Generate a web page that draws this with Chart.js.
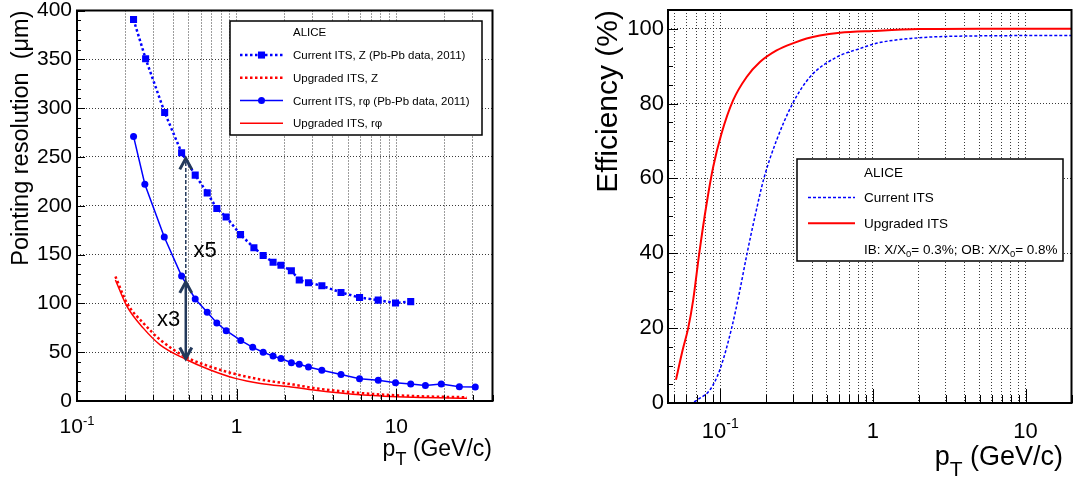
<!DOCTYPE html>
<html>
<head>
<meta charset="utf-8">
<script src="https://cdn.jsdelivr.net/npm/chart.js@4.4.1/dist/chart.umd.min.js"></script>
<style>
  body { margin: 0; background: #fff; }
  #wrap { position: relative; width: 1075px; height: 485px; }
  canvas { position: absolute; top: 0; }
</style>
</head>
<body>
<div id="wrap">
  <canvas id="resolucion" width="540" height="485" style="left:0"></canvas>
  <canvas id="eficiencia" width="535" height="485" style="left:540px"></canvas>
</div>
<script>
const FONT = '"Liberation Sans", Arial, Helvetica, sans-serif';
const GRID = '#3a3a3a';

// pointing resolution (um) vs pT (GeV/c), left panel
const ptZ = [0.226, 0.269, 0.354, 0.452, 0.55, 0.654, 0.751, 0.859, 1.057, 1.282, 1.465, 1.69, 1.894, 2.2, 2.465, 2.815, 3.415, 4.5, 5.88, 7.7, 9.88, 12.3];
const resZ = [390.7, 350.6, 295.5, 254.3, 231.4, 213.2, 197.1, 188.5, 170.4, 157, 149.1, 142.2, 139, 133.4, 124, 121.2, 118, 111.2, 106, 103.3, 100.3, 101.8];
const ptRphi = [0.226, 0.266, 0.352, 0.452, 0.55, 0.654, 0.751, 0.86, 1.06, 1.26, 1.465, 1.69, 1.894, 2.2, 2.465, 2.815, 3.415, 4.5, 5.88, 7.7, 9.88, 12.3, 15.2, 19.1, 24.8, 31.2];
const resRphi = [271, 222, 168, 128, 104.5, 91, 80, 72, 62, 55, 50, 46, 43.5, 39.2, 37.6, 34.8, 31.4, 27.2, 22.9, 21.2, 18.8, 17.3, 15.8, 17.3, 14.6, 14.3];
const ptUpg = [0.174, 0.206, 0.261, 0.333, 0.476, 0.684, 0.98, 1.41, 2.27, 3.03, 6.24, 12.8, 27.7];
const resUpgZ = [127.5, 100, 79.6, 62.5, 45.4, 35.1, 27.6, 22, 16.8, 13.3, 7.9, 5.1, 3.8];
const resUpgRphi = [124, 96.6, 74.4, 57.3, 43, 31.7, 23.2, 18, 14.2, 11.3, 6.1, 3.8, 2.8];

// tracking efficiency (%) vs pT (GeV/c), right panel
const ptEffCur = [0.05, 0.0634, 0.0736, 0.0857, 0.0995, 0.1188, 0.1346, 0.15, 0.1688, 0.1932, 0.234, 0.298, 0.387, 0.578, 0.822, 1.08, 1.77, 3.5, 20];
const effCur = [0, 0, 1.3, 3.5, 8.9, 20, 30.2, 40, 49.8, 60, 70.2, 80, 87.1, 92.4, 94.7, 96.2, 97.4, 98, 98.2];
const ptEffUpg = [0.0513, 0.0568, 0.0617, 0.0665, 0.0729, 0.0815, 0.09, 0.102, 0.1216, 0.149, 0.182, 0.234, 0.308, 0.368, 0.449, 0.608, 1.0, 2, 5, 20];
const effUpg = [6.2, 14.2, 20, 27.5, 40, 53.3, 63.1, 72, 80.9, 87.1, 91.1, 94.2, 96.3, 97.4, 98.2, 98.9, 99.4, 99.9, 100, 100];

const yTicksRes = [0, 50, 100, 150, 200, 250, 300, 350, 400];
const yTicksEff = [0, 20, 40, 60, 80, 100];
const xDecades = [0.1, 1, 10];
const xDecadeLabels = ['10^{-1}', '1', '10'];

const pts = (xs, ys) => xs.map((x, i) => ({x: x, y: ys[i]}));

// 1..9 x 10^n grid like ROOT's log axis
function logGrid(min, max) {
  const out = [];
  for (let e = Math.floor(Math.log10(min)); e <= Math.ceil(Math.log10(max)); e++) {
    for (let m = 1; m < 10; m++) {
      const v = +(m * Math.pow(10, e)).toPrecision(6);
      if (v >= min * 0.999 && v <= max * 1.001) out.push(v);
    }
  }
  return out;
}

function seg(ctx, x1, y1, x2, y2) {
  ctx.beginPath(); ctx.moveTo(x1, y1); ctx.lineTo(x2, y2); ctx.stroke();
}

// text with _{sub} and ^{sup}
function drawRich(ctx, s, x, y, size, align, o) {
  o = o || {};
  const small = o.small || size * 0.7;
  const parts = [];
  const re = /([_^])\{([^}]*)\}|([^_^]+)/g;
  let m;
  while ((m = re.exec(s)) !== null) {
    if (m[3]) parts.push({t: m[3], mode: 0});
    else parts.push({t: m[2], mode: m[1] === '_' ? 1 : 2});
  }
  let w = 0;
  parts.forEach(p => {
    ctx.font = (p.mode ? small : size) + 'px ' + FONT;
    p.w = ctx.measureText(p.t).width;
    w += p.w;
  });
  let cx = align === 'right' ? x - w : align === 'center' ? x - w / 2 : x;
  ctx.textAlign = 'left';
  ctx.textBaseline = 'alphabetic';
  parts.forEach(p => {
    ctx.font = (p.mode ? small : size) + 'px ' + FONT;
    const dy = p.mode === 1 ? (o.lower || size * 0.3) : p.mode === 2 ? -(o.raise || size * 0.4) : 0;
    ctx.fillText(p.t, cx, y + dy);
    cx += p.w;
  });
}

function marker(ctx, style, x, y, r, color) {
  ctx.fillStyle = color;
  if (style === 'rect') {
    const s = r * Math.SQRT2;
    ctx.fillRect(x - s / 2, y - s / 2, s, s);
  } else {
    ctx.beginPath(); ctx.arc(x, y, r, 0, Math.PI * 2); ctx.fill();
  }
}

function chevron(ctx, x, y, dir, h) {
  ctx.beginPath();
  ctx.moveTo(x - h[0], y + dir * h[1]);
  ctx.lineTo(x, y);
  ctx.lineTo(x + h[0], y + dir * h[1]);
  ctx.stroke();
}

// frame, inward ticks, labels, titles and legend in ROOT style
function rootFrame(cfg) {
  return {
    id: 'rootFrame',
    afterDraw(chart) {
      const ctx = chart.ctx, a = chart.chartArea, x = chart.scales.x, y = chart.scales.y;
      ctx.save();
      ctx.strokeStyle = '#000';
      ctx.lineWidth = 1;
      ctx.setLineDash([]);
      x.ticks.forEach(t => {
        const px = Math.round(x.getPixelForValue(t.value)) + 0.5;
        const len = xDecades.includes(t.value) ? cfg.xTick[1] : cfg.xTick[0];
        seg(ctx, px, a.bottom, px, a.bottom - len);
      });
      for (let v = y.min; v <= y.max + 1e-9; v += cfg.yMinor) {
        const py = Math.round(y.getPixelForValue(v)) + 0.5;
        const len = Math.abs(v % cfg.yMajor) < 1e-9 ? cfg.yTick[1] : cfg.yTick[0];
        seg(ctx, a.left, py, a.left + len, py);
      }
      ctx.lineWidth = 2;
      ctx.strokeRect(a.left, a.top, a.right - a.left, a.bottom - a.top);

      ctx.fillStyle = '#000';
      xDecades.forEach((v, i) => {
        drawRich(ctx, xDecadeLabels[i], x.getPixelForValue(v), cfg.xLab.y, cfg.xLab.size, 'center', cfg.xLab);
      });
      drawRich(ctx, cfg.xTitle.text, cfg.xTitle.x, cfg.xTitle.y, cfg.xTitle.size, 'right', cfg.xTitle);
      ctx.save();
      ctx.translate(cfg.yTitle.x, cfg.yTitle.y);
      ctx.rotate(-Math.PI / 2);
      drawRich(ctx, cfg.yTitle.text, 0, 0, cfg.yTitle.size, 'right');
      ctx.restore();

      if (cfg.arrows) {
        const A = cfg.arrows;
        const ax = x.getPixelForValue(A.x);
        ctx.strokeStyle = A.color;
        ctx.lineWidth = 1.5;
        ctx.setLineDash([4, 2]);
        seg(ctx, ax, y.getPixelForValue(A.dashed[0]), ax, y.getPixelForValue(A.dashed[1]));
        ctx.setLineDash([]);
        ctx.lineWidth = 3;
        chevron(ctx, ax, y.getPixelForValue(A.dashed[1]), 1, A.head);
        const y0 = y.getPixelForValue(A.solid[0]), y1 = y.getPixelForValue(A.solid[1]);
        ctx.lineWidth = 2.5;
        seg(ctx, ax, y0, ax, y1);
        ctx.lineWidth = 3;
        chevron(ctx, ax, y1, 1, A.head);
        chevron(ctx, ax, y0, -1, A.head);
        ctx.fillStyle = '#000';
        A.notes.forEach(n => {
          drawRich(ctx, n.text, x.getPixelForValue(n.x), y.getPixelForValue(n.y), A.size, 'left');
        });
      }

      const L = cfg.legend;
      ctx.fillStyle = '#fff';
      ctx.fillRect(L.box[0], L.box[1], L.box[2] - L.box[0], L.box[3] - L.box[1]);
      ctx.strokeStyle = '#000';
      ctx.lineWidth = 1.5;
      ctx.strokeRect(L.box[0], L.box[1], L.box[2] - L.box[0], L.box[3] - L.box[1]);
      L.rows.forEach((r, i) => {
        const ry = L.y0 + i * L.step;
        let text = r.text;
        if (r.ds !== undefined) {
          const ds = chart.data.datasets[r.ds];
          text = text || ds.label;
          ctx.strokeStyle = ds.borderColor;
          ctx.lineWidth = ds.borderWidth;
          ctx.setLineDash(ds.borderDash || []);
          seg(ctx, L.line[0], ry, L.line[1], ry);
          ctx.setLineDash([]);
          if (ds.pointRadius) marker(ctx, ds.pointStyle, (L.line[0] + L.line[1]) / 2, ry, ds.pointRadius, ds.pointBackgroundColor);
        }
        ctx.fillStyle = '#000';
        drawRich(ctx, text, L.textX, ry + L.size * 0.36, L.size, 'left', {small: L.size * 0.7, lower: 3});
      });
      ctx.restore();
    }
  };
}

function scales(xmin, xmax, xh, ymin, ymax, yticks, yw, yfont, ypad) {
  return {
    x: {
      type: 'logarithmic', min: xmin, max: xmax,
      afterBuildTicks: s => { s.ticks = logGrid(s.min, s.max).map(v => ({value: v})); },
      afterFit: s => { s.height = xh; s.paddingLeft = 0; s.paddingRight = 0; },
      ticks: {display: false},
      grid: {color: GRID, lineWidth: 1, drawTicks: false},
      border: {display: false, dash: [1, 2]}
    },
    y: {
      min: ymin, max: ymax,
      afterBuildTicks: s => { s.ticks = yticks.map(v => ({value: v})); },
      afterFit: s => { s.width = yw; s.paddingTop = 0; s.paddingBottom = 0; },
      ticks: {font: {family: FONT, size: yfont}, color: '#000', padding: ypad},
      grid: {color: GRID, lineWidth: 1, drawTicks: false},
      border: {display: false, dash: [1, 2]}
    }
  };
}

const resolucion = new Chart(document.getElementById('resolucion'), {
  type: 'line',
  data: {
    datasets: [{
      label: 'Current ITS, Z (Pb-Pb data, 2011)',
      data: pts(ptZ, resZ),
      borderColor: '#0000ff', backgroundColor: '#0000ff', pointBackgroundColor: '#0000ff',
      borderWidth: 2.5, borderDash: [2.5, 2.5], pointStyle: 'rect', pointRadius: 5, pointBorderWidth: 0, tension: 0
    }, {
      label: 'Upgraded ITS, Z',
      data: pts(ptUpg, resUpgZ),
      borderColor: '#ff0000', borderWidth: 2.5, borderDash: [2.5, 2.5], pointRadius: 0, cubicInterpolationMode: 'monotone'
    }, {
      label: 'Current ITS, rφ (Pb-Pb data, 2011)',
      data: pts(ptRphi, resRphi),
      borderColor: '#0000ff', backgroundColor: '#0000ff', pointBackgroundColor: '#0000ff',
      borderWidth: 1.5, pointStyle: 'circle', pointRadius: 3.5, pointBorderWidth: 0, tension: 0
    }, {
      label: 'Upgraded ITS, rφ',
      data: pts(ptUpg, resUpgRphi),
      borderColor: '#ff0000', borderWidth: 1.5, pointRadius: 0, cubicInterpolationMode: 'monotone'
    }]
  },
  options: {
    responsive: false, animation: false, events: [],
    layout: {padding: {left: 0, top: 10.5, right: 47.5, bottom: 0}},
    scales: scales(0.1, 40, 84, 0, 400, yTicksRes, 77, 21, 5),
    plugins: {legend: {display: false}, tooltip: {enabled: false}}
  },
  plugins: [rootFrame({
    xTick: [6, 12], yTick: [4, 8], yMinor: 10, yMajor: 50,
    xLab: {y: 433, size: 21, small: 13, raise: 8},
    xTitle: {text: 'p_{T} (GeV/c)', x: 492, y: 456, size: 23, small: 18, lower: 9},
    yTitle: {text: 'Pointing resolution  (μm)', x: 28, y: 10.5, size: 23.5},
    arrows: {
      x: 0.48, color: '#23395b', dashed: [124, 248.5], solid: [43.5, 122], head: [6, 11], size: 22,
      notes: [{text: 'x5', x: 0.537, y: 147.2}, {text: 'x3', x: 0.317, y: 77.1}]
    },
    legend: {
      box: [230, 21, 482, 135], y0: 32.3, step: 22.75, size: 11.5, textX: 293, line: [240, 283],
      rows: [{text: 'ALICE'}, {ds: 0}, {ds: 1}, {ds: 2}, {ds: 3}]
    }
  })]
});

const eficiencia = new Chart(document.getElementById('eficiencia'), {
  type: 'line',
  data: {
    datasets: [{
      label: 'Current ITS',
      data: pts(ptEffCur, effCur),
      borderColor: '#0000ff', borderWidth: 1.5, borderDash: [3, 2], pointRadius: 0, cubicInterpolationMode: 'monotone'
    }, {
      label: 'Upgraded ITS',
      data: pts(ptEffUpg, effUpg),
      borderColor: '#ff0000', borderWidth: 2, pointRadius: 0, cubicInterpolationMode: 'monotone'
    }]
  },
  options: {
    responsive: false, animation: false, events: [],
    layout: {padding: {left: 0, top: 10, right: 3.5, bottom: 0}},
    scales: scales(0.0455, 20, 82, 0, 105, yTicksEff, 128, 22, 4),
    plugins: {legend: {display: false}, tooltip: {enabled: false}}
  },
  plugins: [rootFrame({
    xTick: [8, 14], yTick: [5, 10], yMinor: 5, yMajor: 20,
    xLab: {y: 438, size: 22, small: 14, raise: 10},
    xTitle: {text: 'p_{T} (GeV/c)', x: 523, y: 465, size: 27, small: 21, lower: 11},
    yTitle: {text: 'Efficiency (%)', x: 77, y: 10, size: 30},
    legend: {
      box: [257, 159, 523, 261], y0: 171.7, step: 25.8, size: 13.5, textX: 324, line: [268, 315],
      rows: [{text: 'ALICE'}, {ds: 0}, {ds: 1}, {text: 'IB: X/X_{0}= 0.3%; OB: X/X_{0}= 0.8%'}]
    }
  })]
});
</script>
</body>
</html>
